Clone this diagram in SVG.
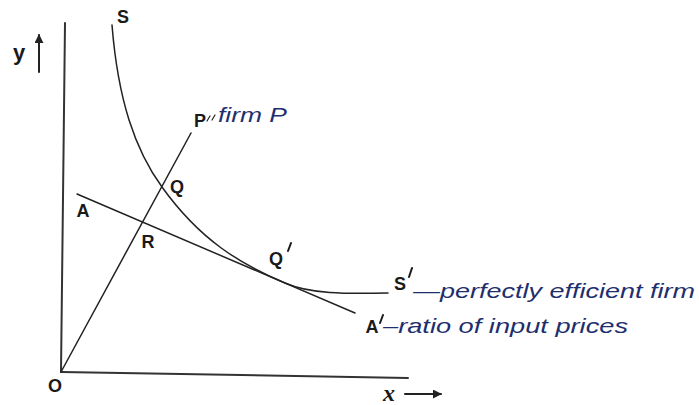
<svg xmlns="http://www.w3.org/2000/svg" width="699" height="405" viewBox="0 0 699 405">
  <defs>
    <style>
      .ln { fill: none; stroke: #222; stroke-width: 1.5; stroke-linecap: round; }
      .ax { fill: none; stroke: #333; stroke-width: 2; stroke-linecap: round; }
      .pr { fill: none; stroke: #1a1a1a; stroke-width: 2; stroke-linecap: round; }
      .lb { font-family: "Liberation Sans", Arial, sans-serif; font-weight: bold; font-size: 18px; fill: #1a1a1a; text-anchor: middle; }
      .nt { font-family: "Liberation Sans", Arial, sans-serif; font-style: italic; font-size: 21px; fill: #1f2f6e; }
    </style>
    <marker id="ah" viewBox="0 0 10 10" refX="9" refY="5" markerWidth="9" markerHeight="9" markerUnits="userSpaceOnUse" orient="auto">
      <path d="M0,0 L10,5 L0,10 z" fill="#222"/>
    </marker>
  </defs>

  <g id="axes">
    <path class="ax" d="M65,23 L61,372"/>
    <path class="ax" d="M61,372 L408,378"/>
    <path class="ln" d="M39,72 L39,35" marker-end="url(#ah)" style="stroke-width:2"/>
    <path class="ln" d="M405,394 L441,394" marker-end="url(#ah)" style="stroke-width:2"/>
    <text class="lb" x="19" y="60" style="font-size:22px">y</text>
    <text class="lb" x="389" y="401" style="font-family:'Liberation Serif',serif;font-style:italic;font-size:24px">x</text>
    <text class="lb" x="55" y="392">O</text>
  </g>

  <g id="connectors">
    <path id="isoquant" class="ln" d="M112,25 C118,100 135,150 162,187 C200,240 240,264 285,283 C310,294 345,294 388,293"/>
    <path id="ray-OP" class="ln" d="M61,372 L191,133"/>
    <path id="price-line" class="ln" d="M77,194 L355,313"/>
    <path class="ln" d="M207,121 L210,116 M212,120 L215,115" style="stroke-width:1.2"/>
  </g>

  <g id="node-S"><text class="lb" x="123" y="23">S</text></g>
  <g id="node-P"><text class="lb" x="200" y="127">P</text></g>
  <g id="node-Q"><text class="lb" x="177" y="193">Q</text></g>
  <g id="node-A"><text class="lb" x="83" y="217">A</text></g>
  <g id="node-R"><text class="lb" x="148" y="248">R</text></g>
  <g id="node-Q2"><text class="lb" x="276" y="265">Q</text><path class="pr" d="M291,243 L288,251"/></g>
  <g id="node-S2"><text class="lb" x="400" y="290">S</text><path class="pr" d="M412,268 L409,277"/></g>
  <g id="node-A2"><text class="lb" x="372" y="333">A</text><path class="pr" d="M383,315 L380,323"/></g>

  <g id="notes">
    <text class="nt" x="218" y="122" textLength="69" lengthAdjust="spacingAndGlyphs">firm P</text>
    <text class="nt" x="413" y="298" textLength="282" lengthAdjust="spacingAndGlyphs">—perfectly efficient firm</text>
    <text class="nt" x="383" y="333" textLength="245" lengthAdjust="spacingAndGlyphs">–ratio of input prices</text>
  </g>
</svg>
